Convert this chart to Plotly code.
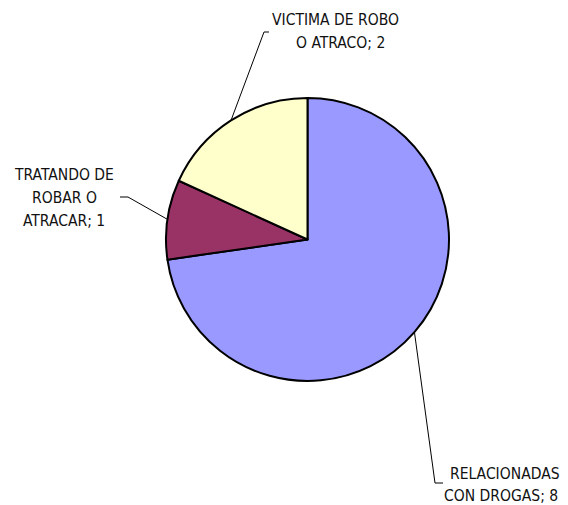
import math
import plotly.graph_objects as go

labels = ["RELACIONADAS CON DROGAS", "TRATANDO DE ROBAR O ATRACAR", "VICTIMA DE ROBO O ATRACO"]
label_lines = [["RELACIONADAS", "CON DROGAS; 8"], ["TRATANDO DE", "ROBAR O", "ATRACAR; 1"], ["VICTIMA DE ROBO", "O ATRACO; 2"]]
values = [8, 1, 2]
colors = ["#9999FF", "#993366", "#FFFFCC"]

W, H = 568, 505
CX, CY, R = 307.5, 239.5, 141.5
FONT = "DejaVu Sans Condensed, Liberation Sans Narrow, Arial Narrow, Liberation Sans, Arial"

# label line centers (pixel layout), leader elbow points
label_centers = [[(505, 473.5), (501.3, 496.0)],
                 [(63.7, 174.8), (64.5, 198.2), (63.7, 221.5)],
                 [(335, 19.8), (340, 43.2)]]
elbows = [[(435, 483), (443, 483)], [(128, 197), (120, 197)], [(264, 32), (269, 32)]]

def px(x):
    return x / W

def py(y):
    return 1 - y / H

fig = go.Figure(go.Pie(
    labels=labels, values=values, sort=False, direction="clockwise", rotation=0,
    marker=dict(colors=colors, line=dict(color="black", width=2)),
    textinfo="none", hoverinfo="label+value", showlegend=False,
    domain=dict(x=[px(CX - R), px(CX + R)], y=[py(CY + R), py(CY - R)]),
))

total = sum(values)
cum = 0
shapes = []
annotations = []
for i, v in enumerate(values):
    mid = (cum + v / 2) / total * 2 * math.pi
    cum += v
    sx = CX + R * math.sin(mid)
    sy = CY - R * math.cos(mid)
    pts = [(sx, sy)] + elbows[i]
    path = "M " + " L ".join(f"{px(x):.5f},{py(y):.5f}" for x, y in pts)
    shapes.append(dict(type="path", path=path, xref="paper", yref="paper",
                       line=dict(color="black", width=1)))
    for txt, (lx, ly) in zip(label_lines[i], label_centers[i]):
        annotations.append(dict(text=txt, x=px(lx), y=py(ly), xref="paper", yref="paper",
                                showarrow=False, align="center", xanchor="center", yanchor="middle",
                                font=dict(family=FONT, size=15.5, color="#111111")))

fig.update_layout(width=W, height=H, margin=dict(l=0, r=0, t=0, b=0),
                  paper_bgcolor="white", plot_bgcolor="white",
                  shapes=shapes, annotations=annotations)
fig.write_html("out.html", config={"displayModeBar": False},
               post_script="document.body.style.margin='0';document.body.style.padding='0';")
